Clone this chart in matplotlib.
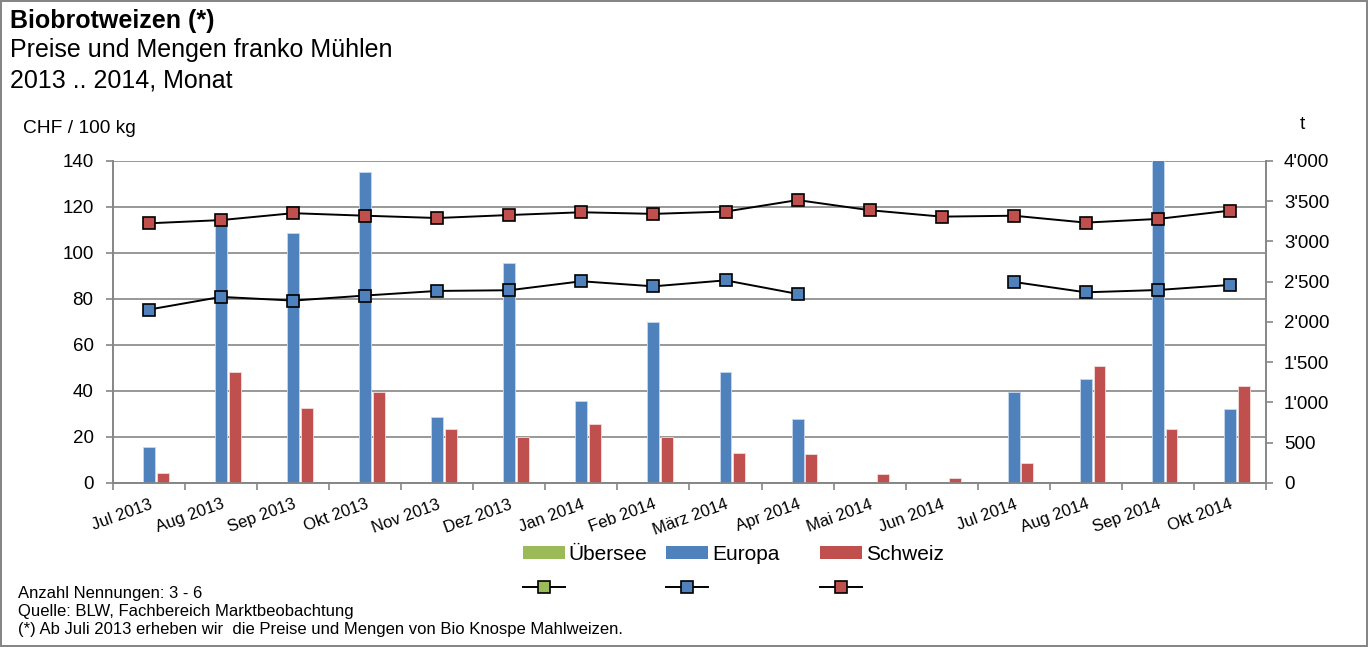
import matplotlib.pyplot as plt
import numpy as np
from matplotlib.patches import Patch
from matplotlib.lines import Line2D

plt.rcParams['font.family'] = ['Liberation Sans', 'DejaVu Sans']

months = ['Jul 2013', 'Aug 2013', 'Sep 2013', 'Okt 2013', 'Nov 2013', 'Dez 2013',
          'Jan 2014', 'Feb 2014', 'März 2014', 'Apr 2014', 'Mai 2014', 'Jun 2014',
          'Jul 2014', 'Aug 2014', 'Sep 2014', 'Okt 2014']

# Mengen in t (rechte Achse)
menge_uebersee = [np.nan] * 16
menge_europa = [442, 3260, 3102, 3860, 823, 2737, 1013, 2004, 1379, 790, 0, 0,
                1130, 1296, 4200, 914]
menge_schweiz = [124, 1379, 932, 1130, 675, 571, 733, 571, 376, 363, 115, 66,
                 252, 1453, 666, 1205]

# Preise in CHF / 100 kg (linke Achse)
preis_uebersee = [np.nan] * 16
preis_europa = [75.4, 80.9, 79.3, 81.5, 83.5, 83.8, 87.7, 85.5, 88.1, 82.2, np.nan, np.nan,
                87.4, 82.9, 83.9, 86.1]
preis_schweiz = [112.9, 114.3, 117.3, 116.2, 115.2, 116.5, 117.7, 117.0, 118.0, 123.0, 118.6, 115.8,
                 116.2, 113.2, 114.8, 118.4]

green = '#9BBB59'
blue = '#4F81BD'
red = '#C0504D'
grey = '#868686'

fig = plt.figure(figsize=(13.68, 6.47), dpi=100)
fig.patch.set_edgecolor(grey)
fig.patch.set_linewidth(1.5)

ax = fig.add_axes([0.0826, 0.2535, 0.8428, 0.4977])
ax2 = ax.twinx()
ax3 = ax.twinx()

X = np.arange(len(months))
w = 0.165
ax2.bar(X - 0.19, menge_uebersee, width=w, color=green, edgecolor='#DCE6F2', linewidth=0.6)
ax2.bar(X + 0.00, menge_europa, width=w, color=blue, edgecolor='#C6D9F1', linewidth=0.6)
ax2.bar(X + 0.19, menge_schweiz, width=w, color=red, edgecolor='#F2DCDB', linewidth=0.6)

mk = dict(marker='s', markersize=8.5, markeredgecolor='black', markeredgewidth=1.2,
          color='black', linewidth=1.4)
ax3.plot(X, preis_uebersee, markerfacecolor=green, **mk)
ax3.plot(X, preis_europa, markerfacecolor=blue, **mk)
ax3.plot(X, preis_schweiz, markerfacecolor=red, **mk)

# left axis
ax.set_xlim(-0.5, len(months) - 0.5)
ax.set_ylim(0, 140)
ax.set_yticks(np.arange(0, 141, 20))
ax.yaxis.grid(True, color=grey, linewidth=1.2)
ax.set_axisbelow(True)
ax.tick_params(axis='y', labelsize=13.5, color=grey, length=5, width=1.2, pad=9)
ax.set_xticks(X)
ax.set_xticklabels(months, rotation=20, ha='right', rotation_mode='anchor', fontsize=12)
ax.set_xticks(np.arange(-0.5, len(months), 1), minor=True)
ax.tick_params(axis='x', which='major', length=0, pad=10)
ax.tick_params(axis='x', which='minor', length=5, color=grey, width=1.2)

# right axis
ax2.set_ylim(0, 4000)
ax2.set_yticks(np.arange(0, 4001, 500))
ax2.set_yticklabels(['0', '500', "1'000", "1'500", "2'000", "2'500", "3'000", "3'500", "4'000"])
ax2.tick_params(axis='y', labelsize=13.5, color=grey, length=5, width=1.2, pad=8)

ax3.set_ylim(0, 140)
ax3.yaxis.set_visible(False)

for a in (ax, ax2, ax3):
    a.spines['top'].set_visible(False)
for a in (ax, ax2):
    for s in ('left', 'right', 'bottom'):
        a.spines[s].set_color(grey)
        a.spines[s].set_linewidth(1.2)
for s in ('left', 'right', 'bottom'):
    ax3.spines[s].set_visible(False)

# texts
fig.text(0.0073, 0.968, 'Biobrotweizen (*)', fontsize=18, fontweight='bold', va='center')
fig.text(0.0073, 0.922, 'Preise und Mengen franko Mühlen', fontsize=18, va='center')
fig.text(0.0073, 0.876, '2013 .. 2014, Monat', fontsize=18, va='center')
fig.text(0.017, 0.802, 'CHF / 100 kg', fontsize=13.8, va='center')
fig.text(0.950, 0.807, 't', fontsize=13.8, va='center')

fig.text(0.013, 0.082, 'Anzahl Nennungen: 3 - 6', fontsize=12, va='center')
fig.text(0.013, 0.055, 'Quelle: BLW, Fachbereich Marktbeobachtung', fontsize=12, va='center')
fig.text(0.013, 0.027, '(*) Ab Juli 2013 erheben wir  die Preise und Mengen von Bio Knospe Mahlweizen.',
         fontsize=12, va='center')

# legend: one small legend per series (bar above, line below)
mk_leg = dict(mk, markersize=8)
leg_x = [523, 666, 820]
for (name, c), x0 in zip([('Übersee', green), ('Europa', blue), ('Schweiz', red)], leg_x):
    h = [Patch(facecolor=c, edgecolor='none'), Line2D([], [], markerfacecolor=c, **mk_leg)]
    leg = fig.legend(h, [name, ''], loc='center left', bbox_to_anchor=(x0 / 1368, 0.117),
                     frameon=False, fontsize=15, handlelength=2.0, handleheight=0.55,
                     handletextpad=0.2, labelspacing=0.7, borderpad=0, borderaxespad=0)

fig.savefig('out.png', dpi=100)
